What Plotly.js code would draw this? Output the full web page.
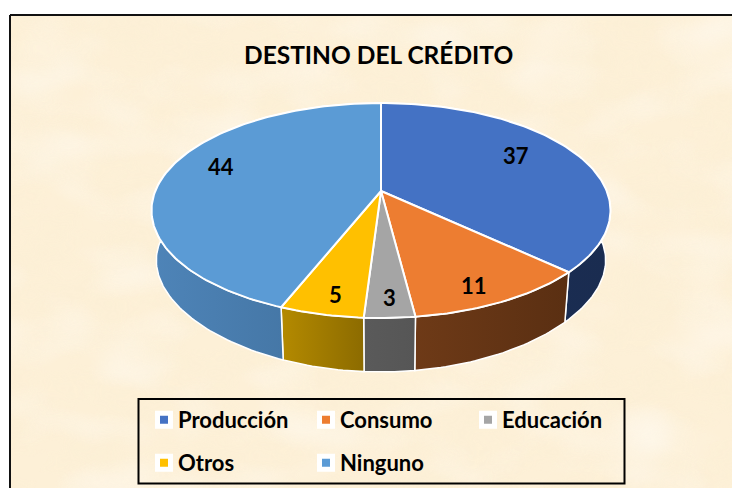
<!DOCTYPE html>
<html><head><meta charset="utf-8">
<script src="https://cdn.plot.ly/plotly-3.0.1.min.js"></script>
<style>html,body{margin:0;padding:0;background:#fff;overflow:hidden}</style>
</head><body><div id="chart" style="width:732px;height:488px"></div>
<script>
const categories = ['Producción','Consumo','Educación','Otros','Ninguno'];
const values = [37,11,3,5,44];
const topColors = ['#4472C4','#ED7D31','#A5A5A5','#FFC000','#5B9BD5'];
const sideFrom = ['#1B2F57','#6E3A17','#5A5A5A','#B48A00','#4E84B8'];
const sideTo   = ['#1A2C50','#5A2F12','#565656','#8C6B00','#3F6E9A'];
const labelRadius = [0.70,0.85,0.85,0.85,0.70];
const labelShiftX = [-3,-8,1,4,-8];
const labelShiftY = [-8,3,2,2,-11];

// perspective view of the disc (layout geometry, in page pixels)
const cx=381, cy=191, B=225.7, A=104, k=0.181;
const botScale=0.979, botA=96.8, botK=0.255, botY=242;
const rim=(a,r=1)=>{const u=r*Math.sin(a),v=-r*Math.cos(a),d=1-k*v;return [cx+B*u/d,cy+A*v/d];};
const rimBot=a=>{const u=Math.sin(a),v=-Math.cos(a);return [cx+botScale*B*u/(1-k*v),botY+botA*v/(1-botK*v)];};
const total=values.reduce((s,v)=>s+v,0);
const rad=f=>f/total*2*Math.PI;
let acc=0;
const spans=values.map(v=>{const s=[rad(acc),rad(acc+v)];acc+=v;return s;});
const arc=(s,e,fn)=>{const n=Math.max(2,Math.ceil((e-s)/0.02)),p=[];for(let i=0;i<=n;i++)p.push(fn(s+(e-s)*i/n));return p;};

const traces=[];
// side walls
spans.forEach((sp,i)=>{
  const a=arc(sp[0],sp[1],rim), b=arc(sp[0],sp[1],rimBot).reverse();
  const pts=a.concat(b,[a[0]]);
  const xs=pts.map(p=>p[0]);
  traces.push({type:'scatter',mode:'lines',x:xs,y:pts.map(p=>p[1]),fill:'toself',
    fillgradient:{type:'horizontal',colorscale:[[0,sideFrom[i]],[1,sideTo[i]]],start:Math.min(...xs),stop:Math.max(...xs)},
    line:{color:'#ffffff',width:1.5},showlegend:false,hoverinfo:'skip'});
});
// top faces
spans.forEach((sp,i)=>{
  const a=arc(sp[0],sp[1],rim);
  const pts=[[cx,cy]].concat(a,[[cx,cy]]);
  traces.push({type:'scatter',mode:'lines',x:pts.map(p=>p[0]),y:pts.map(p=>p[1]),fill:'toself',
    fillcolor:topColors[i],line:{color:'#ffffff',width:2},name:categories[i],showlegend:false,hoverinfo:'skip'});
});
// legend keys
categories.forEach((c,i)=>{
  traces.push({type:'scatter',mode:'markers',x:[null],y:[null],name:c,legend:i<3?'legend':'legend2',showlegend:true,
    marker:{symbol:'square',size:13,color:topColors[i],line:{color:'#ffffff',width:5}},hoverinfo:'skip'});
});

const annotations=values.map((v,i)=>{
  const m=(spans[i][0]+spans[i][1])/2,p=rim(m,labelRadius[i]);
  return {x:p[0],y:p[1],xref:'x',yref:'y',text:String(v),showarrow:false,xshift:labelShiftX[i],yshift:-labelShiftY[i],
    font:{family:'Lato, Carlito, sans-serif',size:22,color:'#000',weight:700}};
});
annotations.push({x:378,y:54.5,xref:'x',yref:'y',text:'<b>DESTINO DEL CRÉDITO</b>',showarrow:false,
  font:{family:'Lato, Carlito, sans-serif',size:24.5,color:'#000'}});

const tex=`<svg xmlns="http://www.w3.org/2000/svg" width="721" height="472"><filter id="f" x="0" y="0" width="100%" height="100%"><feTurbulence type="fractalNoise" baseFrequency="0.018 0.03" numOctaves="3" seed="7"/><feColorMatrix values="0 0 0 0 0.96  0 0 0 0 0.86  0 0 0 0 0.66  0.9 0 0 0 -0.28"/></filter><filter id="g" x="0" y="0" width="100%" height="100%"><feTurbulence type="fractalNoise" baseFrequency="0.012 0.02" numOctaves="2" seed="23"/><feColorMatrix values="0 0 0 0 1  0 0 0 0 0.97  0 0 0 0 0.92  1.6 0 0 0 -0.7"/></filter><rect width="721" height="472" fill="#FDF0D7"/><rect width="721" height="472" filter="url(#f)" opacity="0.9"/><rect width="721" height="472" filter="url(#g)" opacity="0.7"/></svg>`;

const legendFont={family:'Lato, Carlito, sans-serif',size:22,color:'#000',weight:700};
const legendBase={orientation:'h',xanchor:'left',yanchor:'middle',bgcolor:'rgba(0,0,0,0)',borderwidth:0,
  entrywidth:117,entrywidthmode:'pixels',font:legendFont,itemclick:false,itemdoubleclick:false,traceorder:'normal'};

const layout={
  width:732,height:488,margin:{l:0,r:0,t:0,b:0,pad:0},autosize:false,
  paper_bgcolor:'#ffffff',plot_bgcolor:'rgba(0,0,0,0)',showlegend:true,hovermode:false,
  xaxis:{range:[0,732],visible:false,fixedrange:true},
  yaxis:{range:[488,0],visible:false,fixedrange:true},
  images:[{source:'data:image/svg+xml;utf8,'+encodeURIComponent(tex),xref:'x',yref:'y',x:11,y:16,sizex:721,sizey:472,
    sizing:'stretch',layer:'below',xanchor:'left',yanchor:'top'}],
  shapes:[
    {type:'line',xref:'x',yref:'y',x0:10,x1:732,y0:15,y1:15,line:{color:'#111',width:2}},
    {type:'line',xref:'x',yref:'y',x0:10,x1:10,y0:15,y1:488,line:{color:'#111',width:2}},
    {type:'rect',xref:'x',yref:'y',x0:138.5,x1:624.5,y0:399,y1:483.5,line:{color:'#000',width:2},layer:'above'}
  ],
  annotations,
  legend:Object.assign({},legendBase,{x:138/732,y:1-420/488}),
  legend2:Object.assign({},legendBase,{x:138/732,y:1-463/488})
};
Plotly.newPlot('chart',traces,layout,{displayModeBar:false,staticPlot:false}).then(()=>{
  document.querySelectorAll('.legendsymbols').forEach(g=>g.setAttribute('transform','translate(6,0)'));
});
</script></body></html>
